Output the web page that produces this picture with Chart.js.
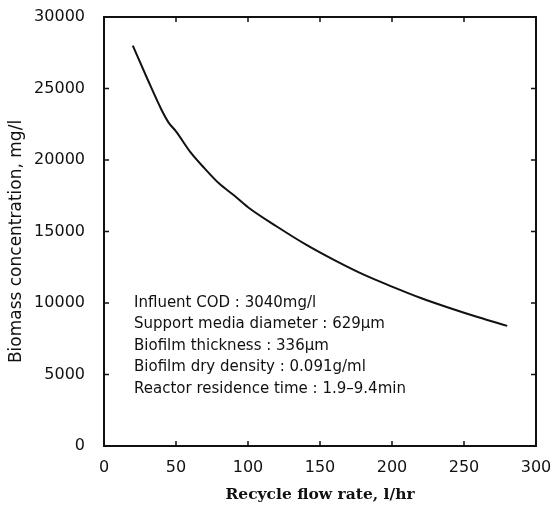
<!DOCTYPE html>
<html>
<head>
<meta charset="utf-8">
<script src="https://cdn.jsdelivr.net/npm/chart.js@4/dist/chart.umd.min.js"></script>
<style>
  html,body{margin:0;padding:0;background:#fff;}
  #wrap{width:553px;height:508px;position:relative;}
</style>
</head>
<body>
<div id="wrap"><canvas id="c" width="553" height="508"></canvas></div>
<script>
// ---- data ----
const flowRate = [20, 30, 40, 45, 50, 60, 70, 80, 90, 100, 120, 140, 160, 180, 200, 220, 240, 260, 280];
const biomass  = [28000, 25700, 23500, 22600, 22000, 20550, 19400, 18350, 17550, 16700, 15350, 14100, 13000, 12000, 11150, 10350, 9650, 9000, 8400];
const xTicks = [0, 50, 100, 150, 200, 250, 300];
const yTicks = [0, 5000, 10000, 15000, 20000, 25000, 30000];
const yTitle = 'Biomass concentration, mg/l';
const noteLines = [
  'Influent COD : 3040mg/l',
  'Support media diameter : 629\u03bcm',
  'Biofilm thickness : 336\u03bcm',
  'Biofilm dry density : 0.091g/ml',
  'Reactor residence time : 1.9\u20139.4min'
];

const INK = '#111';

// frame + inward ticks on all four sides
const framePlugin = {
  id:'frame',
  afterDraw(chart){
    const {ctx, chartArea:a, scales:{x,y}} = chart;
    ctx.save();
    ctx.strokeStyle = INK;
    ctx.lineWidth = 2;
    ctx.strokeRect(a.left, a.top, a.right-a.left, a.bottom-a.top);
    ctx.lineWidth = 1.5;
    const len = 5;
    ctx.beginPath();
    xTicks.forEach(v=>{
      const px = x.getPixelForValue(v);
      ctx.moveTo(px, a.bottom); ctx.lineTo(px, a.bottom-len);
      ctx.moveTo(px, a.top);    ctx.lineTo(px, a.top+len);
    });
    yTicks.forEach(v=>{
      const py = y.getPixelForValue(v);
      ctx.moveTo(a.left, py);  ctx.lineTo(a.left+len, py);
      ctx.moveTo(a.right, py); ctx.lineTo(a.right-len, py);
    });
    ctx.stroke();
    ctx.restore();
  }
};

// text block with run conditions + y title (sits a little below the axis centre in the original)
const notePlugin = {
  id:'note',
  afterDraw(chart){
    const {ctx, chartArea:a} = chart;
    ctx.save();
    ctx.fillStyle = INK;
    ctx.font = '15px "DejaVu Sans"';
    ctx.textBaseline = 'middle';
    noteLines.forEach((t,i)=>ctx.fillText(t, a.left+30, a.top+286+i*21.5));

    ctx.translate(17, (a.top+a.bottom)/2 + 10);
    ctx.rotate(-Math.PI/2);
    ctx.textAlign = 'center';
    ctx.font = '17px "DejaVu Sans"';
    ctx.fillText(yTitle, 0, 0);
    ctx.restore();
  }
};

new Chart(document.getElementById('c').getContext('2d'),{
  type:'line',
  data:{datasets:[{
    data: flowRate.map((v,i)=>({x:v, y:biomass[i]})),
    borderColor:INK, borderWidth:2, pointRadius:0,
    cubicInterpolationMode:'monotone', fill:false
  }]},
  options:{
    responsive:false, animation:false,
    layout:{padding:{left:0, right:17, top:17, bottom:0}},
    plugins:{legend:{display:false}, tooltip:{enabled:false}},
    scales:{
      x:{type:'linear', min:0, max:300,
        afterBuildTicks:s=>{ s.ticks = xTicks.map(v=>({value:v})); },
        afterFit:s=>{ s.height = 62; s.paddingLeft = 0; s.paddingRight = 0; },
        grid:{display:false}, border:{display:false},
        ticks:{color:INK, padding:4, maxRotation:0, font:{family:'DejaVu Sans', size:16}},
        title:{display:true, text:'Recycle flow rate, l/hr', color:INK, padding:{top:10},
               font:{family:'DejaVu Serif', size:15.5, weight:'bold'}}
      },
      y:{type:'linear', min:0, max:30000,
        afterBuildTicks:s=>{ s.ticks = yTicks.map(v=>({value:v})); },
        afterFit:s=>{ s.width = 104; s.paddingTop = 0; s.paddingBottom = 0; },
        grid:{display:false}, border:{display:false},
        ticks:{color:INK, padding:11, font:{family:'DejaVu Sans', size:16}, callback:v=>String(v)}
      }
    }
  },
  plugins:[framePlugin, notePlugin]
});
</script>
</body>
</html>
